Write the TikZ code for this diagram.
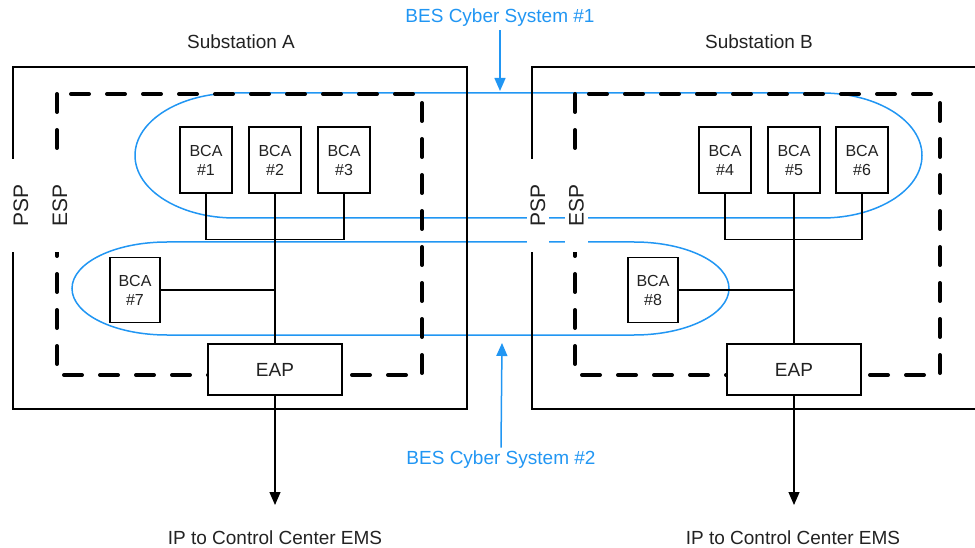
\documentclass[tikz,border=0pt]{standalone}
\usepackage{fontspec}
\setmainfont{Liberation Sans}
\usetikzlibrary{arrows.meta}
\definecolor{besblue}{RGB}{33,150,243}
\definecolor{txt}{RGB}{34,34,34}
\begin{document}
\begin{tikzpicture}[x=1pt,y=1pt,
  psp/.style={line width=2.5pt},
  esp/.style={line width=4pt, dash pattern=on 18pt off 18pt, line cap=round},
  bes/.style={draw=besblue, line width=1.5pt},
  bca/.style={draw, line width=1.5pt, fill=white, minimum width=52pt, minimum height=66pt, inner sep=0pt, align=center, font=\fontsize{16}{19}\selectfont, text=txt},
  eap/.style={draw, line width=1.5pt, fill=white, minimum width=134pt, minimum height=51pt, font=\fontsize{19}{22}\selectfont, text=txt},
  wire/.style={line width=1.2pt},
  lbl/.style={font=\fontsize{19}{22}\selectfont, text=txt},
  perim/.style={rotate=90, fill=white, inner xsep=25pt, inner ysep=4pt, font=\fontsize{21}{24}\selectfont, text=txt},
  besl/.style={font=\fontsize{19}{22}\selectfont, text=besblue},
  besarrow/.style={draw=besblue, line width=1.5pt, -{Triangle[width=11pt,length=13pt]}},
  outarrow/.style={line width=1.2pt, -{Triangle[width=11pt,length=13pt]}}
]
\useasboundingbox (0,0) rectangle (975,-548);
\clip (0,0) rectangle (975,-548);

% BES Cyber System outlines
\draw[bes] (235,-93) -- (822,-93) arc[start angle=90,end angle=-90,x radius=100,y radius=62.5]
  -- (235,-218) arc[start angle=270,end angle=90,x radius=100,y radius=62.5] -- cycle;
\draw[bes] (167,-242) -- (634,-242) arc[start angle=90,end angle=-90,x radius=95,y radius=46.5]
  -- (167,-335) arc[start angle=270,end angle=90,x radius=95,y radius=46.5] -- cycle;

% Physical security perimeters
\draw[psp] (13,-67) rectangle (467,-409);
\draw[psp] (985,-67) -- (532,-67) -- (532,-409) -- (985,-409);

% Electronic security perimeters
\draw[esp] (57,-94) rectangle (422,-375);
\draw[esp] (575,-94) rectangle (940,-375);

% Substation A
\node[bca] (b1) at (206,-160) {BCA\\\#1};
\node[bca] (b2) at (275,-160) {BCA\\\#2};
\node[bca] (b3) at (344,-160) {BCA\\\#3};
\node[bca, minimum width=50pt, minimum height=65pt] (b7) at (135,-290) {BCA\\\#7};
\node[eap] (eapA) at (275,-369.5) {EAP};
\coordinate (outA) at (275,-505);

% Substation B
\node[bca] (b4) at (725,-160) {BCA\\\#4};
\node[bca] (b5) at (794,-160) {BCA\\\#5};
\node[bca] (b6) at (862,-160) {BCA\\\#6};
\node[bca, minimum width=50pt, minimum height=65pt] (b8) at (653,-290) {BCA\\\#8};
\node[eap] (eapB) at (794,-369.5) {EAP};
\coordinate (outB) at (794,-505);

% wiring A
\draw[wire] (b1.south) -- ++(0,-46) -| (b3.south);
\draw[wire] (b2.south) -- (eapA.north);
\draw[wire] (b7.east) -- (b7.east -| b2.south);
\draw[outarrow] (eapA.south) -- (outA);

% wiring B
\draw[wire] (b4.south) -- ++(0,-46) -| (b6.south);
\draw[wire] (b5.south) -- (eapB.north);
\draw[wire] (b8.east) -- (b8.east -| b5.south);
\draw[outarrow] (eapB.south) -- (outB);

% perimeter labels
\node[perim] (pspA) at (21,-205.5) {PSP};
\node[perim] (espA) at (60,-205.5) {ESP};
\node[perim] (pspB) at (538,-205.5) {PSP};
\node[perim] (espB) at (576.5,-205.5) {ESP};

% titles
\node[lbl] (subA) at (241,-42) {Substation A};
\node[lbl] (subB) at (759,-42) {Substation B};
\node[lbl] (ipA) at (275,-538) {IP to Control Center EMS};
\node[lbl] (ipB) at (793,-538) {IP to Control Center EMS};

% BES labels
\node[besl] (bes1) at (500,-18) {BES Cyber System \#1};
\coordinate (bes1tip) at (500,-91);
\draw[besarrow] (bes1.south) -- (bes1tip);
\node[besl] (bes2) at (501,-460) {BES Cyber System \#2};
\coordinate (bes2tip) at (502,-343);
\draw[besarrow] (bes2.north) -- (bes2tip);
\end{tikzpicture}
\end{document}
